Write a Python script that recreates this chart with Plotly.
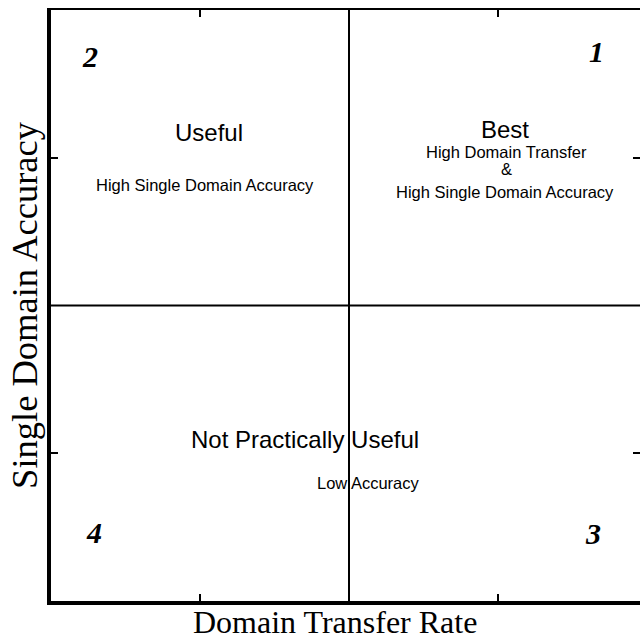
import plotly.graph_objects as go

# Quadrant numbers and labels
quad_numbers = ["2", "1", "4", "3"]
quad_num_x = [0.262, 3.664, 0.289, 3.638]
quad_num_y = [3.682, 3.716, 0.467, 0.460]

titles = ["Useful", "Best", "Not Practically Useful"]
title_x = [1.060, 3.047, 1.705]
title_y = [3.168, 3.188, 1.096]

subtitles = ["High Single Domain Accuracy", "High Domain Transfer", "&",
             "High Single Domain Accuracy", "Low Accuracy"]
sub_x = [1.034, 3.054, 3.054, 3.047, 2.134]
sub_y = [2.816, 3.039, 2.924, 2.768, 0.799]

tick_vals = [1, 3]
divider = 2
x_range = [0, 3.953]
y_range = [0, 4]

fig = go.Figure()
fig.add_trace(go.Scatter(x=[None], y=[None], showlegend=False))

ann = []
for t, x, y in zip(quad_numbers, quad_num_x, quad_num_y):
    ann.append(dict(x=x, y=y, xref="x", yref="y", text="<b><i>%s</i></b>" % t,
                    showarrow=False, font=dict(family="Liberation Serif", size=30, color="black")))
for t, x, y in zip(titles, title_x, title_y):
    ann.append(dict(x=x, y=y, xref="x", yref="y", text=t, showarrow=False,
                    font=dict(family="Liberation Sans", size=24, color="black")))
for t, x, y in zip(subtitles, sub_x, sub_y):
    ann.append(dict(x=x, y=y, xref="x", yref="y", text=t, showarrow=False,
                    font=dict(family="Liberation Sans", size=16.5, color="black")))

ann.append(dict(x=0.482, y=0, xref="paper", yref="paper", yshift=-21,
                xanchor="center", yanchor="middle",
                text="Domain Transfer Rate", showarrow=False,
                font=dict(family="Liberation Serif", size=32, color="black")))
ann.append(dict(x=0, y=0.501, xref="paper", yref="paper", xshift=-26, textangle=-90,
                xanchor="center", yanchor="middle",
                text="Single Domain Accuracy", showarrow=False,
                font=dict(family="Liberation Serif", size=36.5, color="black")))

shapes = [
    dict(type="line", xref="x", yref="y", x0=divider, x1=divider, y0=y_range[0], y1=y_range[1],
         line=dict(color="black", width=2)),
    dict(type="line", xref="x", yref="y", x0=x_range[0], x1=x_range[1], y0=divider, y1=divider,
         line=dict(color="black", width=2)),
]

axis_common = dict(showgrid=False, zeroline=False, showticklabels=False,
                   ticks="inside", tickvals=tick_vals, ticklen=7, tickwidth=1.5, tickcolor="black")

fig.update_layout(
    width=640, height=641,
    margin=dict(l=51, r=0, t=10, b=40),
    paper_bgcolor="white", plot_bgcolor="white",
    xaxis=dict(axis_common, range=x_range, showline=True, linewidth=4, linecolor="black"),
    yaxis=dict(axis_common, range=y_range, showline=True, linewidth=4, linecolor="black"),
    xaxis2=dict(axis_common, range=x_range, overlaying="x", side="top", showline=True,
                linewidth=2, linecolor="black", matches="x"),
    yaxis2=dict(axis_common, range=y_range, overlaying="y", side="right", showline=False,
                matches="y"),
    annotations=ann, shapes=shapes, showlegend=False,
)
fig.add_trace(go.Scatter(x=[None], y=[None], xaxis="x2", yaxis="y2", showlegend=False))

fig.write_html("out.html", config={"displayModeBar": False},
               post_script="document.body.style.margin='0';document.body.style.overflow='hidden';")
